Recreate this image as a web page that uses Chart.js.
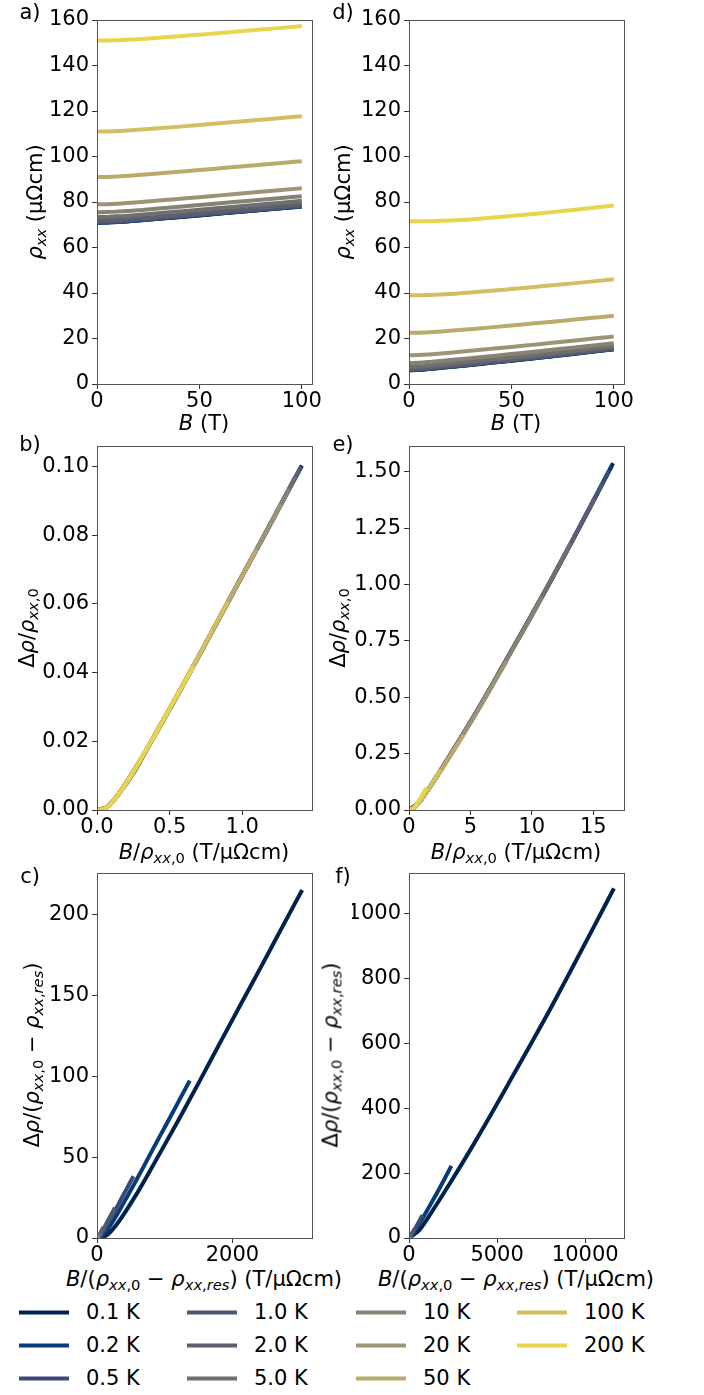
<!DOCTYPE html>
<html>
<head>
<meta charset="utf-8">
<script src="https://cdn.jsdelivr.net/npm/chart.js@4.4.0/dist/chart.umd.min.js"></script>
<style>
  body { margin: 0; background: #fff; }
  #fig { position: relative; width: 704px; height: 1395px; background: #fff; overflow: hidden;
         font-family: 'DejaVu Sans', sans-serif; color: #000; }
  #fig canvas { position: absolute; }
  .lbl { position: absolute; font-size: 21px; line-height: 1; white-space: nowrap; transform: translate(-50%, -50%); }
  .lbl.rot { transform: translate(-50%, -50%) rotate(-90deg); }
  .lbl sub { font-size: 0.7em; vertical-align: -0.3em; line-height: 0; }
  .leg { position: absolute; font-size: 21px; line-height: 1; white-space: nowrap; transform: translateY(-50%); }
  .leg .sw { display: inline-block; width: 50px; height: 4px; vertical-align: middle; margin-right: 17px; }
</style>
</head>
<body>
<div id="fig">
  <canvas id="pa"></canvas><canvas id="pb"></canvas><canvas id="pc"></canvas>
  <canvas id="pd"></canvas><canvas id="pe"></canvas><canvas id="pf"></canvas>

  <div class="lbl" style="left:30px;top:12px">a)</div>
  <div class="lbl" style="left:30px;top:444px">b)</div>
  <div class="lbl" style="left:30px;top:876px">c)</div>
  <div class="lbl" style="left:343px;top:12px">d)</div>
  <div class="lbl" style="left:343px;top:444px">e)</div>
  <div class="lbl" style="left:343px;top:876px">f)</div>

  <div class="lbl" style="left:204px;top:423px"><i>B</i> (T)</div>
  <div class="lbl" style="left:516px;top:423px"><i>B</i> (T)</div>
  <div class="lbl" style="left:204px;top:852px"><i>B</i>/<i>ρ</i><sub><i>xx</i>,0</sub> (T/μΩcm)</div>
  <div class="lbl" style="left:516px;top:852px"><i>B</i>/<i>ρ</i><sub><i>xx</i>,0</sub> (T/μΩcm)</div>
  <div class="lbl" style="left:204px;top:1279px"><i>B</i>/(<i>ρ</i><sub><i>xx</i>,0</sub> − <i>ρ</i><sub><i>xx</i>,<i>res</i></sub>) (T/μΩcm)</div>
  <div class="lbl" style="left:516px;top:1279px"><i>B</i>/(<i>ρ</i><sub><i>xx</i>,0</sub> − <i>ρ</i><sub><i>xx</i>,<i>res</i></sub>) (T/μΩcm)</div>

  <div class="lbl rot" style="left:35px;top:202px"><i>ρ</i><sub><i>xx</i></sub> (μΩcm)</div>
  <div class="lbl rot" style="left:343px;top:202px"><i>ρ</i><sub><i>xx</i></sub> (μΩcm)</div>
  <div class="lbl rot" style="left:27px;top:628px">Δ<i>ρ</i>/<i>ρ</i><sub><i>xx</i>,0</sub></div>
  <div class="lbl rot" style="left:338px;top:628px">Δ<i>ρ</i>/<i>ρ</i><sub><i>xx</i>,0</sub></div>
  <div class="lbl rot" style="left:32px;top:1055px">Δ<i>ρ</i>/(<i>ρ</i><sub><i>xx</i>,0</sub> − <i>ρ</i><sub><i>xx</i>,<i>res</i></sub>)</div>
  <div class="lbl rot" style="left:331px;top:1055px">Δ<i>ρ</i>/(<i>ρ</i><sub><i>xx</i>,0</sub> − <i>ρ</i><sub><i>xx</i>,<i>res</i></sub>)</div>

  <div id="legend"></div>
</div>

<script>
// magnetic field points (T)
const fieldB = [0, 5, 10, 20, 30, 40, 50, 60, 70, 80, 90, 100];

const tempLabels = ["0.1 K", "0.2 K", "0.5 K", "1.0 K", "2.0 K", "5.0 K", "10 K", "20 K", "50 K", "100 K", "200 K"];
const tempColors = ["#00224e", "#063a79", "#3a4a76", "#4c5676", "#5c606e", "#6f6f70",
                    "#868274", "#9d9477", "#baab6d", "#d3bf5f", "#e8d44d"];

// left sample, rho_xx (uOhm cm) vs B
const rhoL_0p1K = [70.903, 70.968, 71.205, 71.851, 72.586, 73.335, 74.108, 74.895, 75.675, 76.448, 77.234, 78.015];
const rhoL_0p2K = [70.943, 71.008, 71.245, 71.891, 72.626, 73.375, 74.148, 74.935, 75.715, 76.488, 77.274, 78.055];
const rhoL_0p5K = [71.056, 71.121, 71.358, 72.004, 72.739, 73.488, 74.261, 75.048, 75.828, 76.601, 77.387, 78.168];
const rhoL_1K   = [71.25, 71.315, 71.55, 72.195, 72.93, 73.68, 74.45, 75.24, 76.02, 76.79, 77.58, 78.36];
const rhoL_2K   = [71.9, 71.96, 72.19, 72.83, 73.56, 74.30, 75.08, 75.86, 76.64, 77.42, 78.20, 79.00];
const rhoL_5K   = [73.4, 73.46, 73.69, 74.33, 75.06, 75.82, 76.58, 77.36, 78.15, 78.92, 79.70, 80.52];
const rhoL_10K  = [75.5, 75.56, 75.78, 76.37, 77.15, 77.90, 78.66, 79.45, 80.23, 81.01, 81.78, 82.57];
const rhoL_20K  = [79.0, 79.06, 79.27, 79.89, 80.62, 81.37, 82.13, 82.91, 83.69, 84.47, 85.24, 86.03];
const rhoL_50K  = [91.0, 91.04, 91.22, 91.83, 92.54, 93.28, 94.02, 94.79, 95.57, 96.36, 97.13, 97.91];
const rhoL_100K = [111.0, 111.03, 111.17, 111.73, 112.39, 113.12, 113.86, 114.62, 115.37, 116.16, 116.95, 117.73];
const rhoL_200K = [151.0, 151.03, 151.12, 151.56, 152.16, 152.83, 153.57, 154.29, 155.05, 155.80, 156.54, 157.32];
const rhoResL = 70.87;

// right sample
const rhoR_0p1K = [6.02, 6.23, 6.62, 7.47, 8.36, 9.29, 10.25, 11.21, 12.19, 13.21, 14.24, 15.28];
const rhoR_0p2K = [6.053, 6.263, 6.643, 7.493, 8.383, 9.313, 10.273, 11.233, 12.213, 13.223, 14.253, 15.293];
const rhoR_0p5K = [6.143, 6.353, 6.733, 7.593, 8.483, 9.403, 10.363, 11.323, 12.303, 13.313, 14.333, 15.383];
const rhoR_1K   = [6.35, 6.55, 6.94, 7.79, 8.67, 9.59, 10.55, 11.51, 12.48, 13.48, 14.50, 15.55];
const rhoR_2K   = [6.63, 6.83, 7.21, 8.05, 8.94, 9.85, 10.81, 11.77, 12.74, 13.74, 14.75, 15.79];
const rhoR_5K   = [7.59, 7.77, 8.14, 8.97, 9.84, 10.74, 11.68, 12.64, 13.60, 14.58, 15.56, 16.57];
const rhoR_10K  = [9.21, 9.36, 9.70, 10.50, 11.36, 12.25, 13.14, 14.07, 15.03, 15.99, 16.93, 17.92];
const rhoR_20K  = [12.6, 12.70, 13.01, 13.76, 14.58, 15.44, 16.31, 17.20, 18.09, 19.01, 19.96, 20.90];
const rhoR_50K  = [22.5, 22.56, 22.73, 23.36, 24.10, 24.89, 25.71, 26.55, 27.39, 28.25, 29.11, 30.0];
const rhoR_100K = [39.0, 39.03, 39.13, 39.56, 40.24, 40.94, 41.75, 42.56, 43.40, 44.23, 45.11, 46.0];
const rhoR_200K = [71.5, 71.52, 71.59, 71.87, 72.34, 73.04, 73.87, 74.71, 75.55, 76.52, 77.51, 78.5];
const rhoResR = 6.0114;

// tick values
const ticksField = [0, 50, 100];
const ticksRho = [0, 20, 40, 60, 80, 100, 120, 140, 160];
const ticksKohXL = [0, 0.5, 1.0];
const ticksKohYL = [0, 0.02, 0.04, 0.06, 0.08, 0.10];
const ticksModXL = [0, 2000];
const ticksModYL = [0, 50, 100, 150, 200];
const ticksKohXR = [0, 5, 10, 15];
const ticksKohYR = [0, 0.25, 0.5, 0.75, 1.0, 1.25, 1.5];
const ticksModXR = [0, 5000, 10000];
const ticksModYR = [0, 200, 400, 600, 800, 1000];

const rhoL = [rhoL_0p1K, rhoL_0p2K, rhoL_0p5K, rhoL_1K, rhoL_2K, rhoL_5K, rhoL_10K, rhoL_20K, rhoL_50K, rhoL_100K, rhoL_200K];
const rhoR = [rhoR_0p1K, rhoR_0p2K, rhoR_0p5K, rhoR_1K, rhoR_2K, rhoR_5K, rhoR_10K, rhoR_20K, rhoR_50K, rhoR_100K, rhoR_200K];

function rawPts(rho) {
    return rho.map((r, j) => ({ x: fieldB[j], y: r }));
}
function kohlerPts(rho) {
    const r0 = rho[0];
    return rho.map((r, j) => ({ x: fieldB[j] / r0, y: (r - r0) / r0 }));
}
function modPts(rho, res) {
    const d = rho[0] - res;
    return rho.map((r, j) => ({ x: fieldB[j] / d, y: (r - rho[0]) / d }));
}

const framePlugin = {
    id: "frame",
    afterDraw(chart) {
        const a = chart.chartArea, ctx = chart.ctx;
        ctx.save();
        ctx.strokeStyle = "#555";
        ctx.lineWidth = 1;
        ctx.strokeRect(Math.round(a.left) + 0.5, Math.round(a.top) + 0.5,
                       Math.round(a.right - a.left), Math.round(a.bottom - a.top));
        ctx.restore();
    }
};

function axis(min, max, tickVals, dec, size, pad) {
    return {
        type: "linear", min: min, max: max,
        afterBuildTicks: s => { s.ticks = tickVals.map(v => ({ value: v })); },
        afterFit: s => { if (s.isHorizontal()) s.height = size; else s.width = size; },
        ticks: {
            font: { family: "DejaVu Sans", size: 21 }, color: "#000", padding: pad,
            maxRotation: 0, autoSkip: false,
            callback: v => Number(v).toFixed(dec)
        },
        grid: { drawOnChartArea: false, drawTicks: true, tickLength: 5, color: "#333" },
        border: { display: false }
    };
}

// plot boxes: [left, top, right, bottom] in page pixels
function makePanel(id, box, series, xr, yr) {
    const cx = box[0] < 352 ? 0 : 352;
    const cy = box[1] - 20;
    const cw = 352, ch = box[3] - box[1] + 48;
    const cv = document.getElementById(id);
    cv.width = cw; cv.height = ch;
    cv.style.left = cx + "px"; cv.style.top = cy + "px";
    cv.style.width = cw + "px"; cv.style.height = ch + "px";
    new Chart(cv, {
        type: "line",
        data: {
            datasets: series.map((pts, i) => ({
                label: tempLabels[i], data: pts,
                borderColor: tempColors[i], backgroundColor: tempColors[i],
                borderWidth: 4, pointRadius: 0, fill: false,
                cubicInterpolationMode: "monotone",
                order: series.length - i
            }))
        },
        options: {
            responsive: false, animation: false, devicePixelRatio: 1,
            layout: { padding: { left: 0, top: box[1] - cy, right: cx + cw - box[2], bottom: 0 } },
            plugins: { legend: { display: false }, tooltip: { enabled: false } },
            scales: {
                x: axis(xr[0], xr[1], xr[2], xr[3], cy + ch - box[3], 0),
                y: axis(yr[0], yr[1], yr[2], yr[3], box[0] - cx, 3)
            }
        },
        plugins: [framePlugin]
    });
}

makePanel("pa", [97, 20, 312, 384], rhoL.map(rawPts), [0, 105, ticksField, 0], [0, 160, ticksRho, 0]);
makePanel("pb", [97, 446, 312, 810], rhoL.map(kohlerPts), [0, 1.48, ticksKohXL, 1], [0, 0.106, ticksKohYL, 2]);
makePanel("pc", [97, 873, 312, 1238], rhoL.map(r => modPts(r, rhoResL)), [0, 3175, ticksModXL, 0], [0, 226, ticksModYL, 0]);
makePanel("pd", [409, 20, 624, 384], rhoR.map(rawPts), [0, 105, ticksField, 0], [0, 160, ticksRho, 0]);
makePanel("pe", [409, 446, 624, 810], rhoR.map(kohlerPts), [0, 17.5, ticksKohXR, 0], [0, 1.614, ticksKohYR, 2]);
makePanel("pf", [409, 873, 624, 1238], rhoR.map(r => modPts(r, rhoResR)), [0, 12200, ticksModXR, 0], [0, 1124, ticksModYR, 0]);

// legend, filled column by column
const legCols = [19, 187, 356, 517];
const legRows = [1312, 1345, 1378];
const legend = document.getElementById("legend");
tempLabels.forEach((t, i) => {
    const el = document.createElement("div");
    el.className = "leg";
    el.style.left = legCols[Math.floor(i / 3)] + "px";
    el.style.top = legRows[i % 3] + "px";
    el.innerHTML = '<span class="sw" style="background:' + tempColors[i] + '"></span>' + t;
    legend.appendChild(el);
});
</script>
</body>
</html>
